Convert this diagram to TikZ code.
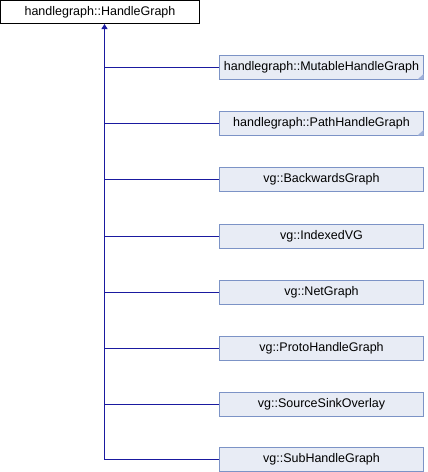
\documentclass[tikz,border=0pt]{standalone}
\usepackage{fontspec}
\setmainfont{Liberation Sans}
\usetikzlibrary{arrows.meta}
\definecolor{edgeblue}{HTML}{1A1AA0}
\definecolor{boxfill}{HTML}{E8ECF5}
\definecolor{boxdraw}{HTML}{7C93C6}
\definecolor{cornerblue}{HTML}{9FB1DA}
\tikzset{
  base/.style={draw=black, fill=white, line width=1pt, minimum width=199pt, minimum height=23pt, inner sep=0pt, font=\fontsize{12.5}{14}\selectfont},
  child/.style={draw=boxdraw, fill=boxfill, line width=1pt, minimum width=204pt, minimum height=24pt, inner sep=0pt, font=\fontsize{12.5}{14}\selectfont},
  conn/.style={draw=edgeblue, line width=1pt},
  inh/.style={conn, -{Triangle[length=5pt, width=6pt]}},
  corner/.style={fill=cornerblue, draw=none}
}
\begin{document}
\begin{tikzpicture}[x=1pt, y=-1pt]
\useasboundingbox (0,0) rectangle (428,472);
\node[base] (top) at (100,12) {handlegraph::HandleGraph};
\node[child] (c1) at (321.5,67.5) {handlegraph::MutableHandleGraph};
\node[child] (c2) at (321.5,123.5) {handlegraph::PathHandleGraph};
\node[child] (c3) at (321.5,179.5) {vg::BackwardsGraph};
\node[child] (c4) at (321.5,236.5) {vg::IndexedVG};
\node[child] (c5) at (321.5,292.5) {vg::NetGraph};
\node[child] (c6) at (321.5,348.5) {vg::ProtoHandleGraph};
\node[child] (c7) at (321.5,404.5) {vg::SourceSinkOverlay};
\node[child] (c8) at (321.5,459.5) {vg::SubHandleGraph};
\coordinate (trunk) at (104.5,459.5);
\foreach \c in {c1,c2,c3,c4,c5,c6,c7,c8} {
  \draw[conn] (\c.west) -- (\c.west -| trunk);
}
\draw[inh] (trunk) -- (trunk |- top.south);
\foreach \c in {c1,c2} {
  \fill[corner] ([yshift=6pt,xshift=-0.5pt]\c.south east) -- ([xshift=-0.5pt,yshift=0.5pt]\c.south east) -- ([xshift=-6.5pt,yshift=0.5pt]\c.south east) -- cycle;
}
\end{tikzpicture}
\end{document}
